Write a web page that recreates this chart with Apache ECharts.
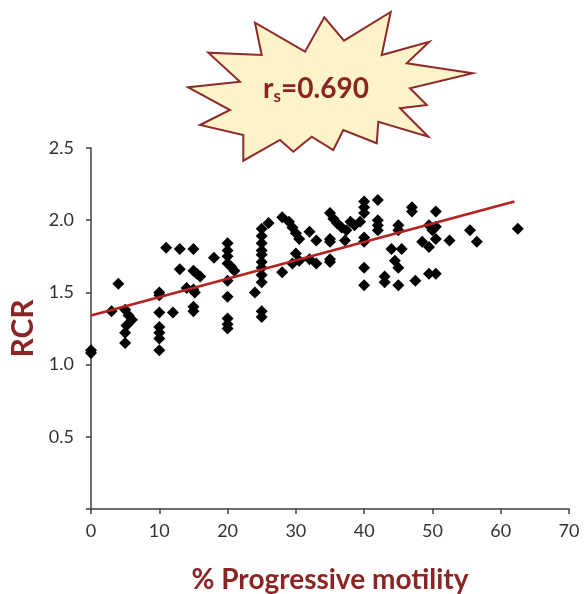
<!DOCTYPE html>
<html><head><meta charset="utf-8">
<script src="https://cdn.jsdelivr.net/npm/echarts@6/dist/echarts.min.js"></script>
<style>html,body{margin:0;padding:0;background:#fff}#c{width:587px;height:594px}</style>
</head><body><div id="c"></div>
<script>
var motility = [0,0,3,4,5,5.5,6,5.2,5,5,10,10,10,10,10,10,10,12,11,13,15,13,15,15.5,16,14,15,15.2,15,15,18,
20,20,20,20,20.5,21,20,20,20,20,20,24,25,25,25,25,25,25,25,25,25,25,25,26,
28,29,29.5,30,30.5,28,30,30.5,29.5,32,33,32,33,
35,35.5,36,36.7,38,38.6,39.4,37.4,37.2,35,35,35,35,
40,40,40,40,40,40,40,42,42,42,42,43,43,45,45,44,45.5,44.5,45,45,
47,47,47.5,48.5,49.5,49.5,50.5,50,50.5,50.5,49.5,50.5,52.5,55.5,56.5,62.5];
var rcr = [1.08,1.10,1.37,1.56,1.38,1.34,1.31,1.27,1.22,1.15,1.50,1.48,1.36,1.26,1.22,1.18,1.10,1.36,1.81,1.80,1.80,1.66,1.65,1.63,1.61,1.53,1.52,1.50,1.40,1.37,1.74,
1.84,1.79,1.75,1.70,1.68,1.65,1.58,1.47,1.32,1.28,1.25,1.50,1.94,1.89,1.84,1.79,1.76,1.71,1.67,1.62,1.57,1.37,1.33,1.98,
2.02,1.99,1.95,1.91,1.87,1.64,1.77,1.72,1.70,1.92,1.86,1.73,1.70,
2.05,2.01,1.98,1.95,1.99,1.965,1.99,1.93,1.86,1.87,1.85,1.73,1.71,
2.13,2.09,2.05,1.88,1.85,1.67,1.55,2.14,2.00,1.965,1.93,1.61,1.57,1.965,1.93,1.80,1.80,1.72,1.67,1.55,
2.09,2.06,1.58,1.85,1.815,1.965,1.955,1.93,2.06,1.87,1.63,1.63,1.86,1.93,1.85,1.94];
var trendX = [0, 62];
var trendY = [1.34, 2.13];
var xTicks = [0,10,20,30,40,50,60,70];
var yTicks = [0.5,1.0,1.5,2.0,2.5];

var pts = motility.map(function(x,i){return [x, rcr[i]];});
var line = trendX.map(function(x,i){return [x, trendY[i]];});
var dark = '#8B2424';
var chart = echarts.init(document.getElementById('c'));
var burst = [[188.3,87.3],[240,81.7],[208.3,52.7],[261.7,55],[255,22.7],[305,51.7],[324.3,17.3],[344,40.7],[390.7,12],[381.7,55],[429.3,41.7],[406.7,63.3],[472.7,73.3],
  [410,88.3],[426.7,105],[400,108.3],[428.3,136.7],[378.3,121.7],[376.7,143.3],[343.3,130],[333.3,150],[311.7,136.7],[293.3,151.7],[280,140],[243.3,160.7],[243.3,135],[200,125],[230,110]];
chart.setOption({
  animation:false,
  grid:{left:91,right:18,top:148,bottom:85,containLabel:false,outerBoundsMode:'none'},
  xAxis:{type:'value',min:0,max:70,interval:10,
    name:'% Progressive motility',nameLocation:'middle',nameGap:57,
    nameTextStyle:{color:dark,fontSize:28,fontWeight:'bold',fontFamily:'Lato'},
    axisLine:{show:true,lineStyle:{color:'#404040',width:1.5}},
    axisTick:{show:true,length:5,lineStyle:{color:'#404040',width:1.5}},
    axisLabel:{color:'#333',fontSize:18,fontFamily:'Lato',margin:13,
      formatter:function(v){return xTicks.indexOf(v)>=0?String(v):'';}},
    splitLine:{show:false}},
  yAxis:{type:'value',min:0,max:2.5,interval:0.5,
    name:'RCR',nameLocation:'middle',nameGap:52,
    nameTextStyle:{color:dark,fontSize:30,fontWeight:'bold',fontFamily:'Lato'},
    axisLine:{show:true,lineStyle:{color:'#404040',width:1.5}},
    axisTick:{show:true,length:5,lineStyle:{color:'#404040',width:1.5}},
    axisLabel:{color:'#333',fontSize:18,fontFamily:'Lato',margin:17,
      formatter:function(v){var f=yTicks.filter(function(t){return Math.abs(t-v)<1e-9;});return f.length?f[0].toFixed(1):'';}},
    splitLine:{show:false}},
  series:[
    {type:'scatter',data:pts,symbol:'diamond',symbolSize:12,itemStyle:{color:'#000',opacity:1},z:3},
    {type:'line',data:line,symbol:'none',lineStyle:{color:'#B52020',width:2.5},z:4}
  ],
  graphic:[
    {type:'polygon',shape:{points:burst},style:{fill:'#FCF4C8',stroke:'#8E2A2A',lineWidth:2},z:10},
    {type:'text',x:316,y:89,z:11,style:{
      text:'{r|r}{s|s}{r|=0.690}',align:'center',verticalAlign:'middle',
      rich:{r:{fontSize:28,fontWeight:'bold',fill:dark,fontFamily:'Lato'},
            s:{fontSize:17,fontWeight:'bold',fill:dark,fontFamily:'Lato',padding:[15,0,0,0]}}}}
  ]
});
</script></body></html>
